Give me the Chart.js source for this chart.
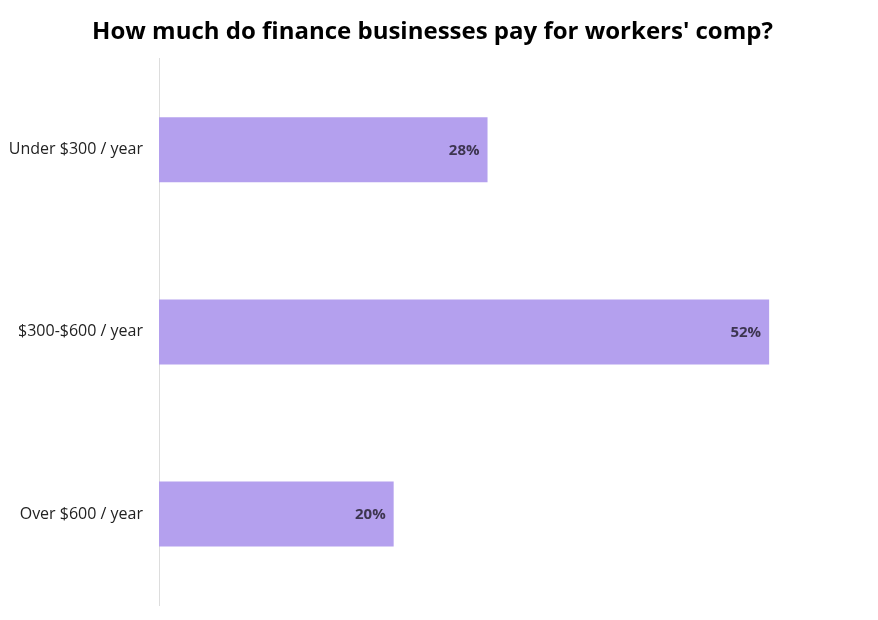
<!DOCTYPE html>
<html>
<head>
<meta charset="utf-8">
<script src="https://cdn.jsdelivr.net/npm/chart.js@4.4.1/dist/chart.umd.min.js"></script>
<style>
html,body{margin:0;padding:0;background:#fff;}
#wrap{width:878px;height:620px;position:relative;}
</style>
</head>
<body>
<div id="wrap"><canvas id="c"></canvas></div>
<script>
const categories = ["Under $300 / year", "$300-$600 / year", "Over $600 / year"];
const shares = [28, 52, 20];
const titleText = "How much do finance businesses pay for workers' comp?";

const barLabels = {
  id: 'barLabels',
  afterDatasetsDraw(chart) {
    const ctx = chart.ctx;
    const meta = chart.getDatasetMeta(0);
    ctx.save();
    ctx.font = "bold 15px 'Open Sans'";
    ctx.fillStyle = '#3d3550';
    ctx.textAlign = 'right';
    ctx.textBaseline = 'middle';
    meta.data.forEach((bar, i) => {
      ctx.fillText(shares[i] + '%', bar.x - 8, bar.y + 1);
    });
    ctx.restore();
  }
};

new Chart(document.getElementById('c'), {
  type: 'bar',
  data: {
    labels: categories,
    datasets: [{
      data: shares,
      backgroundColor: '#b4a0ee',
      borderWidth: 0,
      categoryPercentage: 0.357,
      barPercentage: 1.0
    }]
  },
  options: {
    indexAxis: 'y',
    responsive: true,
    maintainAspectRatio: false,
    animation: false,
    layout: { padding: { left: 2, right: 15, top: 18, bottom: 15 } },
    plugins: {
      legend: { display: false },
      tooltip: { enabled: false },
      title: {
        display: true,
        text: titleText,
        color: '#000',
        font: { family: "'Open Sans'", size: 24, weight: 'bold' },
        padding: { top: 0, bottom: 12 }
      }
    },
    scales: {
      x: { display: false, min: 0, max: 60 },
      y: {
        grid: { display: true, drawTicks: true, tickLength: 16, color: 'rgba(0,0,0,0)', drawOnChartArea: false },
        border: { display: true, color: '#dddddd', width: 1 },
        ticks: { color: '#222', font: { family: "'Open Sans'", size: 16 }, padding: 0 },
        afterFit(scale) { scale.width = 157; }
      }
    }
  },
  plugins: [barLabels]
});
</script>
</body>
</html>
